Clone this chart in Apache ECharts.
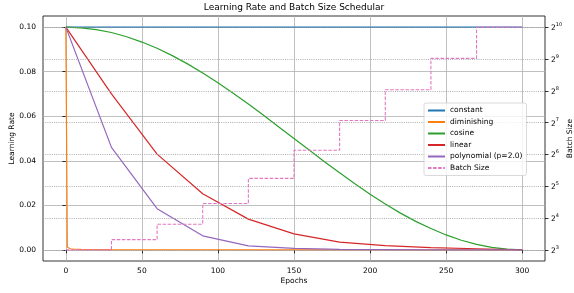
<!DOCTYPE html>
<html>
<head>
<meta charset="utf-8">
<script src="https://cdn.jsdelivr.net/npm/echarts@6/dist/echarts.min.js"></script>
<style>
  html, body { margin: 0; padding: 0; background: #fff; }
  #chart { width: 574px; height: 293px; }
</style>
</head>
<body>
<div id="chart"></div>
<script>
// epochs
var constEpochs = [0, 300];
var constValues = [0.1, 0.1];

var dimEpochs = [0, 1, 2, 3, 5, 10, 30, 100, 300];
var dimValues = [0.1, 0.0012, 0.0007, 0.0005, 0.0003, 0.0002, 0.0001, 0.00005, 0.00002];

var cosEpochs = [0, 10, 20, 30, 40, 50, 60, 70, 80, 90, 100, 110, 120, 130, 140, 150,
                 160, 170, 180, 190, 200, 210, 220, 230, 240, 250, 260, 270, 280, 290, 300];
var cosValues = [0.1, 0.0997, 0.0989, 0.0976, 0.0957, 0.0933, 0.0905, 0.0872, 0.0835, 0.0794,
                 0.075, 0.0703, 0.0655, 0.0604, 0.0552, 0.05, 0.0448, 0.0396, 0.0346, 0.0297,
                 0.025, 0.0206, 0.0165, 0.0128, 0.0096, 0.0067, 0.0043, 0.0025, 0.0011, 0.0003, 0];

var stageEpochs = [0, 30, 60, 90, 120, 150, 180, 210, 240, 270, 300];
var linearValues = [0.1, 0.07, 0.043, 0.0252, 0.0138, 0.0072, 0.0035, 0.0019, 0.001, 0.0005, 0];
var polyValues = [0.1, 0.046, 0.0185, 0.0063, 0.0018, 0.0007, 0.0002, 0.0001, 0, 0, 0];
var batchSizes = [8, 10, 14, 22, 38, 70, 134, 262, 518, 1024, 1024];

var xTicks = [0, 50, 100, 150, 200, 250, 300];
var lrTicks = [0, 0.02, 0.04, 0.06, 0.08, 0.1];
var bsTicks = [3, 4, 5, 6, 7, 8, 9, 10];

var FONT = 'DejaVu Sans';

function pairs(xs, ys){
    var out = [];
    for (var i = 0; i < xs.length; i++) out.push([xs[i], ys[i]]);
    return out;
}

var chart = echarts.init(document.getElementById('chart'), null, {renderer: 'canvas'});

function lineSeries(name, color, xs, ys){
    return {
        name: name, type: 'line', xAxisIndex: 0, yAxisIndex: 0,
        data: pairs(xs, ys), symbol: 'none', showSymbol: false,
        lineStyle: {color: color, width: 1.2}, itemStyle: {color: color},
        z: 2
    };
}

var option = {
    animation: false,
    backgroundColor: '#fff',
    textStyle: {fontFamily: FONT},
    title: {
        text: 'Learning Rate and Batch Size Schedular',
        left: 294, top: 3, textAlign: 'center', padding: 0,
        textStyle: {fontFamily: FONT, fontSize: 9, fontWeight: 'normal', color: '#000'}
    },
    grid: {
        left: 43, right: 29, top: 16, bottom: 32,
        outerBoundsMode: 'none', containLabel: false,
        show: true, borderColor: '#000', borderWidth: 0.8, backgroundColor: 'transparent'
    },
    legend: {
        orient: 'vertical', left: 424, top: 103,
        padding: [3, 4, 3, 3],
        itemWidth: 17, itemHeight: 8, itemGap: 2.5,
        itemStyle: {opacity: 0},
        backgroundColor: 'rgba(255,255,255,0.8)',
        borderColor: '#d0d0d0', borderWidth: 0.8, borderRadius: 2,
        textStyle: {fontFamily: FONT, fontSize: 7.5, lineHeight: 9, color: '#000'},
        data: ['constant', 'diminishing', 'cosine', 'linear', 'polynomial (p=2.0)', 'Batch Size'],
        z: 10
    },
    xAxis: {
        type: 'value', min: -15, max: 315,
        name: 'Epochs', nameLocation: 'middle', nameGap: 16, nameMoveOverlap: false,
        nameTextStyle: {fontFamily: FONT, fontSize: 7.5, color: '#000'},
        axisLine: {show: false},
        axisTick: {show: true, length: 3.5, customValues: xTicks, lineStyle: {color: '#000', width: 0.8}},
        axisLabel: {customValues: xTicks, margin: 6, fontFamily: FONT, fontSize: 7.5, color: '#000'},
        splitLine: {show: true, lineStyle: {color: '#b0b0b0', width: 0.8}}
    },
    yAxis: [{
        type: 'value', position: 'left', min: -0.005, max: 0.105,
        name: 'Learning Rate', nameLocation: 'middle', nameGap: 27, nameMoveOverlap: false,
        nameTextStyle: {fontFamily: FONT, fontSize: 7.5, color: '#000'},
        axisLine: {show: false},
        axisTick: {show: true, length: 3.5, customValues: lrTicks, lineStyle: {color: '#000', width: 0.8}},
        axisLabel: {customValues: lrTicks, margin: 7, fontFamily: FONT, fontSize: 7.5, color: '#000',
                    formatter: function(v){ return v.toFixed(2); }},
        splitLine: {show: true, lineStyle: {color: '#b0b0b0', width: 0.8}}
    }, {
        type: 'value', position: 'right', min: 2.65, max: 10.35, splitNumber: 8,
        name: 'Batch Size', nameLocation: 'middle', nameGap: 21, nameRotate: 90, nameMoveOverlap: false,
        nameTextStyle: {fontFamily: FONT, fontSize: 7.5, color: '#000'},
        axisLine: {show: false},
        axisTick: {show: true, length: 3.5, customValues: bsTicks, lineStyle: {color: '#000', width: 0.8}},
        axisLabel: {
            customValues: bsTicks, margin: 6, color: '#000',
            formatter: function(v){ return '{b|2}{s|' + Math.round(v) + '}'; },
            rich: {
                b: {fontFamily: FONT, fontSize: 7.5, lineHeight: 10, verticalAlign: 'bottom', color: '#000'},
                s: {fontFamily: FONT, fontSize: 5, lineHeight: 10, verticalAlign: 'top', color: '#000'}
            }
        },
        splitLine: {show: true, lineStyle: {color: '#999', width: 0.8, type: [1, 1.2]}},
        z: 3
    }],
    series: [
        lineSeries('constant', '#1f77b4', constEpochs, constValues),
        lineSeries('diminishing', '#ff7f0e', dimEpochs, dimValues),
        lineSeries('cosine', '#2ca02c', cosEpochs, cosValues),
        lineSeries('linear', '#d62728', stageEpochs, linearValues),
        lineSeries('polynomial (p=2.0)', '#9467bd', stageEpochs, polyValues),
        {
            name: 'Batch Size', type: 'line', xAxisIndex: 0, yAxisIndex: 1,
            step: 'end', symbol: 'none', showSymbol: false,
            data: pairs(stageEpochs, batchSizes.map(function(b){ return Math.log2(b); })),
            lineStyle: {color: '#e377c2', width: 1.1, type: [3.5, 1.6]},
            itemStyle: {color: '#e377c2'},
            z: 4
        }
    ]
};

chart.setOption(option);
</script>
</body>
</html>
